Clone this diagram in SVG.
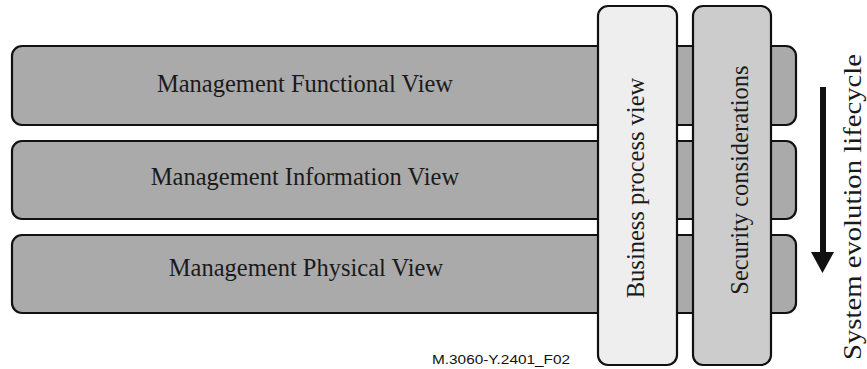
<svg xmlns="http://www.w3.org/2000/svg" width="867" height="369" viewBox="0 0 867 369">
  <style>
    .bar { fill: #aaaaaa; stroke: #111111; stroke-width: 2.2; }
    .col { stroke: #111111; stroke-width: 2.2; }
    .lbl { font-family: "Liberation Serif", "Times New Roman", serif; font-size: 24.5px; fill: #1a1a1a; }
    .note { font-family: "Liberation Sans", Arial, sans-serif; font-size: 13.5px; fill: #111111; }
  </style>
  <rect width="867" height="369" fill="#ffffff"/>

  <!-- management views -->
  <g id="functional-view">
    <rect class="bar" x="12" y="46" width="784" height="79" rx="10"/>
    <text class="lbl" x="305" y="92" text-anchor="middle">Management Functional View</text>
  </g>
  <g id="information-view">
    <rect class="bar" x="12" y="141" width="784" height="78" rx="10"/>
    <text class="lbl" x="305" y="185" text-anchor="middle">Management Information View</text>
  </g>
  <g id="physical-view">
    <rect class="bar" x="12" y="235" width="784" height="78" rx="10"/>
    <text class="lbl" x="306" y="276" text-anchor="middle">Management Physical View</text>
  </g>

  <!-- cross-cutting columns -->
  <g id="business-process-view">
    <rect class="col" x="598" y="6" width="79" height="359" rx="10" fill="#eeeeee"/>
    <text class="lbl" transform="translate(644,188) rotate(-90)" text-anchor="middle">Business process view</text>
  </g>
  <g id="security-considerations">
    <rect class="col" x="693" y="6" width="78" height="359" rx="10" fill="#cccccc"/>
    <text class="lbl" transform="translate(748,180) rotate(-90)" text-anchor="middle">Security considerations</text>
  </g>

  <!-- lifecycle direction -->
  <g id="connectors">
    <line x1="823" y1="87" x2="823" y2="254" stroke="#111111" stroke-width="6"/>
    <path d="M811,252 L834,252 L822.5,273 Z" fill="#111111"/>
  </g>
  <g id="lifecycle-label">
    <text class="lbl" transform="translate(861,207) rotate(-90)" text-anchor="middle" textLength="306" lengthAdjust="spacingAndGlyphs">System evolution lifecycle</text>
  </g>

  <text class="note" x="432" y="364" textLength="138" lengthAdjust="spacingAndGlyphs">M.3060-Y.2401_F02</text>
</svg>
